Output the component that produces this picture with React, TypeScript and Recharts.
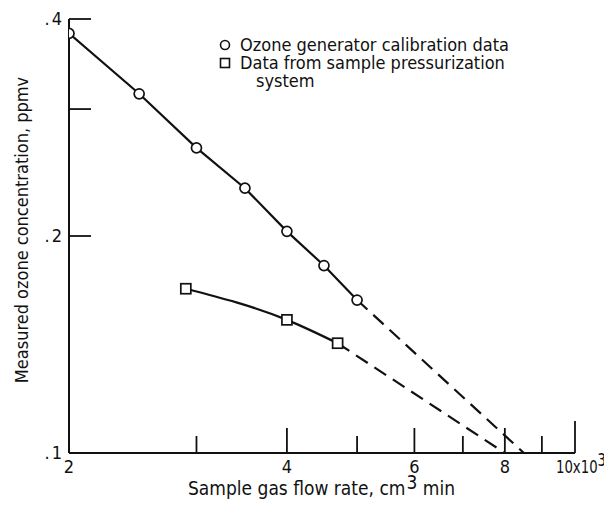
import React from 'react';
import { ComposedChart, Line, XAxis, YAxis, Legend, Label } from 'recharts';

// Ozone generator calibration data (flow in 10^3 cm3/min, ozone in ppmv)
const calibrationFlow = [2.0, 2.5, 3.0, 3.5, 4.0, 4.5, 5.0];
const calibrationOzone = [0.382, 0.315, 0.265, 0.233, 0.203, 0.182, 0.163];
// Extrapolation of the calibration line
const calibrationExtFlow = [5.0, 8.5];
const calibrationExtOzone = [0.163, 0.1];

// Data from the sample pressurization system
const pressurizationFlow = [2.9, 4.0, 4.7];
const pressurizationOzone = [0.169, 0.153, 0.142];
// Extrapolation of the pressurization curve
const pressurizationExtFlow = [4.7, 8.0];
const pressurizationExtOzone = [0.142, 0.1];

const xTicks = [2, 3, 4, 5, 6, 7, 8, 9, 10];
const xTickLabels: Record<number, string> = { 2: '2', 4: '4', 6: '6', 8: '8', 10: '10x10' };
const yTicks = [0.1, 0.2, 0.3, 0.4];
const yTickLabels: Record<number, string> = { 0.1: '.1', 0.2: '.2', 0.4: '.4' };

const CAL_NAME = 'Ozone generator calibration data';
const PRES_NAME = 'Data from sample pressurization\nsystem';

const zip = (xs: number[], ys: number[]) => xs.map((x, i) => ({ x, y: ys[i] }));

const calibration = zip(calibrationFlow, calibrationOzone);
const calibrationExt = zip(calibrationExtFlow, calibrationExtOzone);
const pressurization = zip(pressurizationFlow, pressurizationOzone);
const pressurizationExt = zip(pressurizationExtFlow, pressurizationExtOzone);

const FONT = "'DejaVu Sans Condensed', 'DejaVu Sans', sans-serif";
const INK = '#111';
const FS = 18;

const XTick = (props: any) => {
  const { x, y, payload } = props;
  const v = payload.value as number;
  let len = 17;
  if (v === 2) len = 0;
  else if (v === 10) len = 32;
  else if (v % 2 === 0) len = 25;
  const label = xTickLabels[v];
  return (
    <g>
      {len > 0 && <line x1={x} y1={y} x2={x} y2={y - len} stroke={INK} strokeWidth={1.8} />}
      {label && v !== 10 && (
        <text x={x} y={y + 20} textAnchor="middle" fontFamily={FONT} fontSize={FS} fill={INK}>
          {label}
        </text>
      )}
      {label && v === 10 && (
        <g transform={`translate(${x - 19}, ${y + 20}) scale(0.82, 1)`}>
          <text x={0} y={0} textAnchor="start" fontFamily={FONT} fontSize={FS} fill={INK}>
            {label}
            <tspan dy={-7}>3</tspan>
          </text>
        </g>
      )}
    </g>
  );
};

const YTick = (props: any) => {
  const { x, y, payload } = props;
  const v = Math.round((payload.value as number) * 10) / 10;
  const label = yTickLabels[v];
  return (
    <g>
      {v !== 0.1 && <line x1={x} y1={y} x2={x + 22} y2={y} stroke={INK} strokeWidth={1.8} />}
      {label && (
        <text
          x={x - 5}
          y={y + 6}
          textAnchor="end"
          fontFamily={FONT}
          fontSize={FS}
          letterSpacing={2}
          fill={INK}
        >
          {label}
        </text>
      )}
    </g>
  );
};

const XTitle = (props: any) => {
  const vb = props.viewBox;
  const x0 = vb.x + 119;
  return (
    <text x={x0} y={vb.y + 42} textAnchor="start" fontFamily={FONT} fontSize={19} fill={INK}>
      Sample gas flow rate, cm
      <tspan dx={1} dy={-6}>3</tspan>
      <tspan dy={6}> min</tspan>
    </text>
  );
};

const YTitle = (props: any) => {
  const vb = props.viewBox;
  const cy = vb.y + vb.height / 2 - 6;
  const x = 20;
  return (
    <text
      x={x}
      y={cy}
      transform={`rotate(-90, ${x}, ${cy})`}
      textAnchor="middle"
      fontFamily={FONT}
      fontSize={18}
      fill={INK}
    >
      Measured ozone concentration, ppmv
    </text>
  );
};

const SquareDot = (props: any) => {
  const { cx, cy, index } = props;
  return (
    <rect
      key={`sq-${index}`}
      x={cx - 5}
      y={cy - 5}
      width={10}
      height={10}
      fill="#fff"
      stroke={INK}
      strokeWidth={1.7}
    />
  );
};

const LegendContent = (props: any) => {
  const entries = ((props.payload || []) as any[])
    .filter((e) => e.type !== 'none' && (e.value === CAL_NAME || e.value === PRES_NAME))
    .sort((a, b) => (a.value === CAL_NAME ? -1 : b.value === CAL_NAME ? 1 : 0));
  return (
    <div style={{ fontFamily: FONT, fontSize: FS, color: INK, lineHeight: '18px' }}>
      {entries.map((e: any) => {
        const isCircle = e.value === CAL_NAME;
        const lines = String(e.value).split('\n');
        return (
          <div key={e.value} style={{ display: 'flex', alignItems: 'flex-start' }}>
            <svg width={14} height={18} style={{ flex: 'none' }}>
              {isCircle ? (
                <circle cx={7} cy={9} r={4.5} fill="#fff" stroke={INK} strokeWidth={1.6} />
              ) : (
                <rect x={2.5} y={4.5} width={9} height={9} fill="#fff" stroke={INK} strokeWidth={1.6} />
              )}
            </svg>
            <div style={{ marginLeft: 8 }}>
              {lines.map((l: string, i: number) => (
                <div key={i} style={{ paddingLeft: i > 0 ? 16 : 0, whiteSpace: 'nowrap' }}>
                  {l}
                </div>
              ))}
            </div>
          </div>
        );
      })}
    </div>
  );
};

export default function App() {
  return (
    <ComposedChart
      width={604}
      height={491}
      margin={{ top: 11, right: 37, bottom: 45, left: 60 }}
      style={{ background: '#fff' }}
    >
      <XAxis
        type="number"
        dataKey="x"
        scale="log"
        domain={[2, 10]}
        ticks={xTicks}
        allowDataOverflow
        height={1}
        tickSize={0}
        tickMargin={0}
        tickLine={false}
        tick={<XTick />}
        interval={0}
        axisLine={{ stroke: INK, strokeWidth: 2 }}
      >
        <Label content={<XTitle />} />
      </XAxis>
      <YAxis
        type="number"
        dataKey="y"
        scale="log"
        domain={[0.1, 0.4]}
        ticks={yTicks}
        allowDataOverflow
        width={1}
        tickSize={0}
        tickMargin={0}
        tickLine={false}
        tick={<YTick />}
        interval={0}
        axisLine={{ stroke: INK, strokeWidth: 2 }}
      >
        <Label content={<YTitle />} />
      </YAxis>
      <Legend
        layout="vertical"
        align="center"
        verticalAlign="middle"
        content={<LegendContent />}
        wrapperStyle={{ top: 28, left: 210, width: 360, height: 60 }}
      />
      <Line
        data={calibrationExt}
        dataKey="y"
        type="linear"
        stroke={INK}
        strokeWidth={2.2}
        strokeDasharray="14 8"
        dot={false}
        legendType="none"
        isAnimationActive={false}
      />
      <Line
        data={pressurizationExt}
        dataKey="y"
        type="linear"
        stroke={INK}
        strokeWidth={2.2}
        strokeDasharray="14 8"
        dot={false}
        legendType="none"
        isAnimationActive={false}
      />
      <Line
        data={calibration}
        dataKey="y"
        name={CAL_NAME}
        type="linear"
        stroke={INK}
        strokeWidth={2.2}
        dot={{ r: 5, fill: '#fff', stroke: INK, strokeWidth: 1.7 }}
        isAnimationActive={false}
      />
      <Line
        data={pressurization}
        dataKey="y"
        name={PRES_NAME}
        type="monotone"
        stroke={INK}
        strokeWidth={2.2}
        dot={<SquareDot />}
        isAnimationActive={false}
      />
    </ComposedChart>
  );
}
